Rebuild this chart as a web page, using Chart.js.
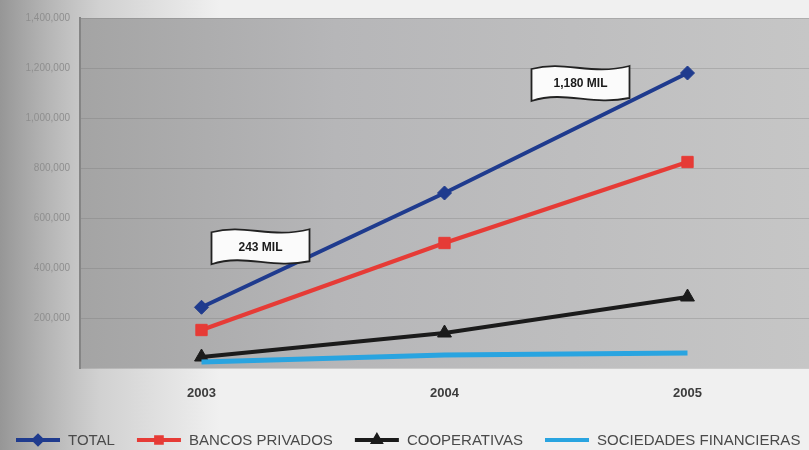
<!DOCTYPE html>
<html>
<head>
<meta charset="utf-8">
<style>
  html, body { margin: 0; padding: 0; background: #efefef; }
  #wrap { width: 809px; height: 450px; }
  canvas { display: block; filter: blur(0.7px); }
</style>
<script src="https://cdn.jsdelivr.net/npm/chart.js@4/dist/chart.umd.min.js"></script>
</head>
<body>
<div id="wrap"><canvas id="c" width="809" height="450"></canvas></div>
<script>
// Años y número de clientes por tipo de institución
const years = ['2003', '2004', '2005'];
const total = [243000, 700000, 1180000];
const bancosPrivados = [152000, 500000, 824000];
const cooperativas = [44000, 140000, 284000];
const sociedadesFinancieras = [24000, 52000, 60000];
const seriesNames = ['TOTAL', 'BANCOS PRIVADOS', 'COOPERATIVAS', 'SOCIEDADES FINANCIERAS'];
const yMax = 1400000;
const yStep = 200000;
// Etiquetas de valor sobre la serie TOTAL
const callouts = [
  { index: 0, text: '243 MIL' },
  { index: 2, text: '1,180 MIL' }
];

const FONT = "'Liberation Sans', Arial, sans-serif";

// Fondo de la página y del área de trazado
const backdrop = {
  id: 'backdrop',
  beforeDraw(chart) {
    const { ctx, width, height, chartArea: a } = chart;
    ctx.save();
    ctx.fillStyle = '#f0f0f0';
    ctx.fillRect(0, 0, width, height);
    let g = ctx.createLinearGradient(0, 0, 220, 0);
    g.addColorStop(0, 'rgba(120,120,120,0.75)');
    g.addColorStop(0.45, 'rgba(150,150,150,0.35)');
    g.addColorStop(1, 'rgba(150,150,150,0)');
    ctx.fillStyle = g;
    ctx.fillRect(0, 0, 220, height);
    g = ctx.createLinearGradient(a.left, 0, a.right, 0);
    g.addColorStop(0, '#a4a4a4');
    g.addColorStop(0.35, '#b6b6b8');
    g.addColorStop(1, '#c6c6c6');
    ctx.fillStyle = g;
    ctx.fillRect(a.left, a.top, a.right - a.left, a.bottom - a.top);
    ctx.restore();
  }
};

// Recuadros en forma de bandera con el valor del punto
const flags = {
  id: 'flags',
  afterDatasetsDraw(chart) {
    const { ctx } = chart;
    const pts = chart.getDatasetMeta(0).data;
    const offsets = [{ dx: 59, dy: -61 }, { dx: -107, dy: 10 }];
    callouts.forEach((c, i) => {
      const p = pts[c.index];
      const cx = p.x + offsets[i].dx, cy = p.y + offsets[i].dy;
      const w = 98, h = 32;
      const x0 = cx - w / 2, x1 = cx + w / 2, y0 = cy - h / 2, y1 = cy + h / 2;
      ctx.save();
      ctx.beginPath();
      ctx.moveTo(x0, y0 + 2);
      ctx.bezierCurveTo(x0 + w * 0.35, y0 - 7, x0 + w * 0.6, y0 + 9, x1, y0 - 1);
      ctx.lineTo(x1, y1 - 1);
      ctx.bezierCurveTo(x0 + w * 0.6, y1 + 7, x0 + w * 0.35, y1 - 9, x0, y1 + 2);
      ctx.closePath();
      ctx.fillStyle = '#fbfbfb';
      ctx.fill();
      ctx.lineWidth = 1.8;
      ctx.strokeStyle = '#222';
      ctx.stroke();
      ctx.fillStyle = '#1a1a1a';
      ctx.font = 'bold 12px ' + FONT;
      ctx.textAlign = 'center';
      ctx.textBaseline = 'middle';
      ctx.fillText(c.text, cx, cy + 1);
      ctx.restore();
    });
  }
};

// Leyenda en una fila bajo el eje de años
const rowLegend = {
  id: 'rowLegend',
  afterDraw(chart) {
    const { ctx } = chart;
    const y = 440;
    let x = 16;
    ctx.save();
    ctx.font = '15px ' + FONT;
    ctx.textBaseline = 'middle';
    chart.data.datasets.forEach((ds) => {
      ctx.strokeStyle = ds.borderColor;
      ctx.lineWidth = 4;
      ctx.beginPath();
      ctx.moveTo(x, y);
      ctx.lineTo(x + 44, y);
      ctx.stroke();
      if (ds.pointRadius > 0) {
        Chart.helpers.drawPoint(ctx, {
          pointStyle: ds.pointStyle, radius: 4, rotation: 0, borderWidth: 1
        }, x + 22, y);
        ctx.fillStyle = ds.borderColor;
        ctx.fill();
      }
      x += 52;
      ctx.fillStyle = '#4a4a4a';
      ctx.fillText(ds.label, x, y + 1);
      x += ctx.measureText(ds.label).width + 22;
    });
    ctx.restore();
  }
};

new Chart(document.getElementById('c'), {
  type: 'line',
  data: {
    labels: years,
    datasets: [
      { label: seriesNames[0], data: total, borderColor: '#1f3b8e', backgroundColor: '#1f3b8e',
        borderWidth: 4, pointStyle: 'rectRot', pointRadius: 7, pointBorderWidth: 1, order: 1 },
      { label: seriesNames[1], data: bancosPrivados, borderColor: '#e63b36', backgroundColor: '#e63b36',
        borderWidth: 4, pointStyle: 'rect', pointRadius: 8, pointBorderWidth: 1, order: 2 },
      { label: seriesNames[2], data: cooperativas, borderColor: '#1b1b1b', backgroundColor: '#1b1b1b',
        borderWidth: 4, pointStyle: 'triangle', pointRadius: 8, pointBorderWidth: 1, order: 3 },
      { label: seriesNames[3], data: sociedadesFinancieras, borderColor: '#29a4e0', backgroundColor: '#29a4e0',
        borderWidth: 5, pointStyle: 'circle', pointRadius: 0, order: 0 }
    ]
  },
  options: {
    responsive: false,
    animation: false,
    devicePixelRatio: 1,
    layout: { autoPadding: false, padding: { top: 18, right: 0, left: 0, bottom: 0 } },
    plugins: { legend: { display: false }, tooltip: { enabled: false } },
    elements: { line: { tension: 0 } },
    scales: {
      x: {
        offset: true,
        grid: { display: false, drawTicks: false },
        border: { display: false },
        ticks: { color: '#3c3c3c', font: { family: FONT, size: 13, weight: 'bold' }, padding: 18 },
        afterFit(s) { s.height = 82; }
      },
      y: {
        min: 0,
        max: yMax,
        grid: { color: 'rgba(110,110,110,0.28)', lineWidth: 1, drawTicks: false },
        border: { display: true, color: '#858585', width: 2 },
        ticks: {
          stepSize: yStep,
          color: '#8e8e8e',
          font: { family: FONT, size: 10 },
          padding: 10,
          callback: (v) => v === 0 ? '' : v.toLocaleString('en-US')
        },
        afterFit(s) { s.width = 80; }
      }
    }
  },
  plugins: [backdrop, flags, rowLegend]
});
</script>
</body>
</html>
